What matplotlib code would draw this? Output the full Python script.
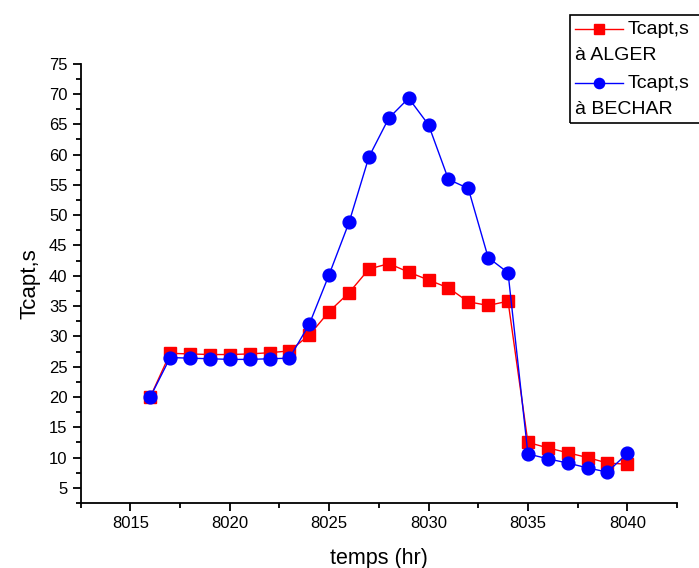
import matplotlib
matplotlib.use("Agg")
import matplotlib.pyplot as plt
from matplotlib.lines import Line2D
from matplotlib.patches import Rectangle
from matplotlib.ticker import MultipleLocator

plt.rcParams['font.family'] = ['Liberation Sans', 'DejaVu Sans']

hours = list(range(8016, 8041))
alger = [20.0, 27.2, 27.1, 27.0, 27.0, 27.1, 27.3, 27.6, 30.2, 34.1, 37.2, 41.1, 42.0,
         40.6, 39.3, 38.0, 35.7, 35.1, 35.8, 12.5, 11.6, 10.8, 10.0, 9.1, 8.9]
bechar = [20.0, 26.5, 26.4, 26.3, 26.2, 26.2, 26.3, 26.4, 32.0, 40.2, 48.8, 59.6, 66.0,
          69.3, 64.9, 55.9, 54.4, 43.0, 40.5, 10.6, 9.8, 9.1, 8.3, 7.6, 10.7]
labels = ["Tcapt,s\nà ALGER", "Tcapt,s\nà BECHAR"]

fig = plt.figure(figsize=(6.99, 5.68), dpi=100)
ax = fig.add_axes([0.1155, 0.1144, 0.853, 0.7736])

ax.plot(hours, alger, color='#ff0000', lw=1, marker='s', ms=8.5, mec='#ff0000', mfc='#ff0000')
ax.plot(hours, bechar, color='#0000ff', lw=1, marker='o', ms=9.2, mec='#0000ff', mfc='#0000ff')

ax.set_xlim(8012.5, 8042.5)
ax.set_ylim(2.5, 75)
ax.xaxis.set_major_locator(MultipleLocator(5))
ax.xaxis.set_minor_locator(MultipleLocator(2.5))
ax.yaxis.set_major_locator(MultipleLocator(5))
ax.yaxis.set_minor_locator(MultipleLocator(2.5))
ax.set_yticks(range(5, 80, 5))
ax.spines['top'].set_visible(False)
ax.spines['right'].set_visible(False)
ax.spines['left'].set_linewidth(1.3)
ax.spines['bottom'].set_linewidth(1.3)
ax.tick_params(which='major', direction='out', length=6, width=1.3, labelsize=12)
ax.tick_params(which='minor', direction='out', length=3.5, width=1.3)

ax.set_xlabel('temps (hr)', fontsize=15.5, labelpad=12)
ax.set_ylabel('Tcapt,s', fontsize=16, labelpad=6)

# legend drawn by hand, text wraps under the handle like the original
fig.add_artist(Rectangle((570 / 699, 1 - 123 / 568), 0.3, 108 / 568,
                         transform=fig.transFigure, fill=False, ec='black', lw=1.2))
styles = [('#ff0000', 's', 8.5), ('#0000ff', 'o', 9.2)]
for i, (lab, (c, m, s)) in enumerate(zip(labels, styles)):
    y = 1 - (29 + 54 * i) / 568
    fig.add_artist(Line2D([575 / 699, 623 / 699], [y, y], transform=fig.transFigure,
                          color=c, lw=1))
    fig.add_artist(Line2D([599 / 699], [y], transform=fig.transFigure, color=c,
                          marker=m, ms=s * 0.8, mec=c, mfc=c))
    first, second = lab.split('\n')
    fig.text(628 / 699, y, first, fontsize=14, va='center', ha='left')
    fig.text(575 / 699, y - 27 / 568, second, fontsize=14, va='center', ha='left')

fig.savefig('out.png', dpi=100)
